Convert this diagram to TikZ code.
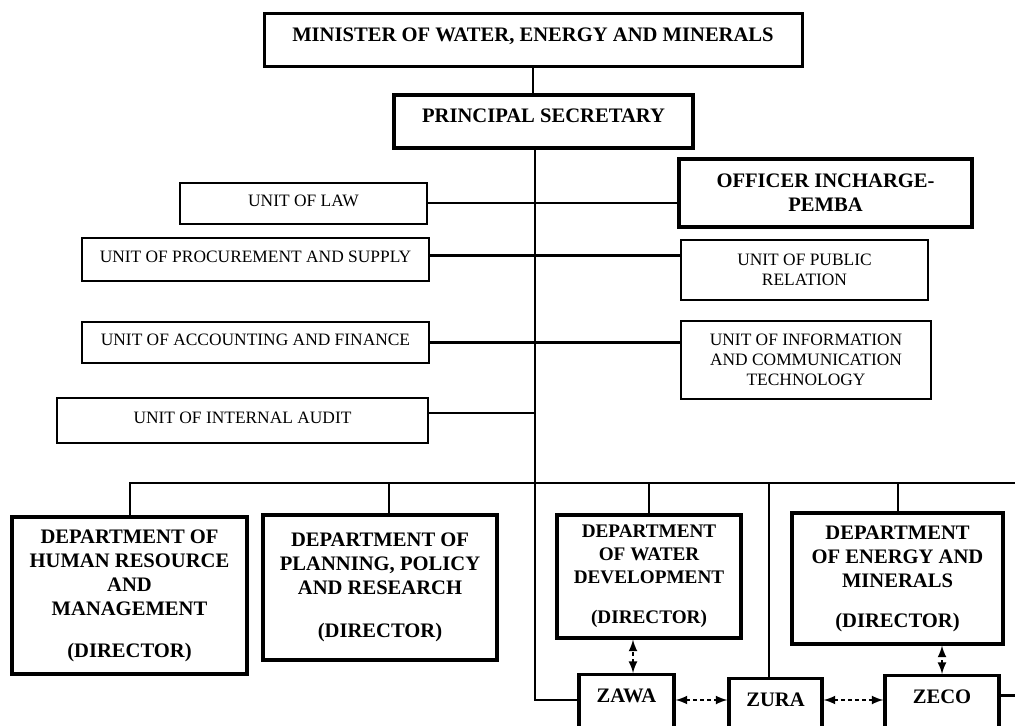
\documentclass[tikz,border=0pt]{standalone}
\usepackage{fontspec}
\setmainfont{Liberation Serif}
\usetikzlibrary{arrows}
\begin{document}
\begin{tikzpicture}[x=0.5pt,y=-0.5pt,>=latex,
    box/.style={draw,rectangle,inner sep=1pt,align=center},
    head/.style={box,line width=1.5pt,font=\fontsize{10.3}{12}\selectfont\bfseries},
    unit/.style={box,line width=1pt,font=\fontsize{8.7}{10}\selectfont},
    dept/.style={head,line width=1.6pt},
    firm/.style={head,line width=1.6pt,anchor=north,inner ysep=7pt,text depth=40pt},
    link/.style={line width=1pt},
    rel/.style={<->,dash pattern=on 2pt off 1.5pt,line width=1pt}]
  \path[use as bounding box,fill=white] (0,0) rectangle (1015,726);
  \clip (0,0) rectangle (1015,726);
  \node[head,minimum width=269pt,minimum height=26.5pt,text depth=5.5pt] (minister) at (533,40.5)
    {MINISTER OF WATER, ENERGY AND MINERALS};
  \node[head,line width=1.6pt,minimum width=149.5pt,minimum height=26.5pt,text depth=5.5pt] (ps) at (543.5,121.5)
    {PRINCIPAL SECRETARY};
  \node[unit,minimum width=123.5pt,minimum height=20.5pt,text depth=3pt] (law) at (303.5,203.5) {UNIT OF LAW};
  \node[unit,minimum width=173.5pt,minimum height=21.5pt,text depth=3pt] (proc) at (255.5,259.5) {UNIT OF PROCUREMENT AND SUPPLY};
  \node[unit,minimum width=173.5pt,minimum height=20.5pt,text depth=3pt] (acct) at (255.5,342.5) {UNIT OF ACCOUNTING AND FINANCE};
  \node[unit,minimum width=185.5pt,minimum height=22.5pt,text depth=3pt] (audit) at (242.5,420.5) {UNIT OF INTERNAL AUDIT};
  \node[head,line width=2pt,minimum width=146.5pt,minimum height=34pt] (officer) at (825.5,193) {OFFICER INCHARGE-\\PEMBA};
  \node[unit,minimum width=123.5pt,minimum height=30pt] (pr) at (804.5,270) {UNIT OF PUBLIC\\RELATION};
  \node[unit,line width=1.1pt,minimum width=125pt,minimum height=39pt] (ict) at (806,360)
    {UNIT OF INFORMATION\\AND COMMUNICATION\\TECHNOLOGY};
  \node[dept,minimum width=117.5pt,minimum height=78.5pt] (hr) at (129.5,595.5)
    {DEPARTMENT OF\\HUMAN RESOURCE\\AND\\MANAGEMENT\\[9pt](DIRECTOR)};
  \node[dept,minimum width=117pt,minimum height=72.5pt] (plan) at (380,587.5)
    {DEPARTMENT OF\\PLANNING, POLICY\\AND RESEARCH\\[9.5pt](DIRECTOR)};
  \node[dept,font=\fontsize{9.6}{11.3}\selectfont\bfseries,minimum width=92pt,minimum height=61.5pt] (water) at (649,576.5)
    {DEPARTMENT\\OF WATER\\DEVELOPMENT\\[9pt](DIRECTOR)};
  \node[dept,minimum width=105.5pt,minimum height=65.5pt] (energy) at (897.5,578.5)
    {DEPARTMENT\\OF ENERGY AND\\MINERALS\\[8pt](DIRECTOR)};
  \node[firm,minimum width=47.5pt] (zawa) at (626.5,673) {ZAWA};
  \node[firm,minimum width=46.5pt] (zura) at (775.5,677) {ZURA};
  \node[firm,minimum width=57pt] (zeco) at (942,674) {ZECO};
  \coordinate (jn) at (535,700);
  \coordinate (bus) at (0,483);
  \coordinate (rim) at (1020,695);
  \draw[link] (minister.south) -- (minister.south |- ps.north);
  \draw[link,line width=1.2pt] (ps.south -| jn) -- (jn) -- (jn -| zawa.west);
  \draw[link] (law.east) -- (law.east -| officer.west);
  \draw[link,line width=1.5pt] ([yshift=1.75pt]proc.east) -- ([yshift=1.75pt]proc.east -| pr.west);
  \draw[link,line width=1.5pt] (acct.east) -- (acct.east -| ict.west);
  \draw[link] ([yshift=3.75pt]audit.east) -- ([yshift=3.75pt]audit.east -| jn);
  \draw[link] (hr.north) -- (hr.north |- bus) -- (rim |- bus);
  \draw[link] ([xshift=4.5pt]plan.north) -- ([xshift=4.5pt]plan.north |- bus);
  \draw[link] (water.north) -- (water.north |- bus);
  \draw[link] (energy.north) -- (energy.north |- bus);
  \draw[link,line width=1.2pt] ([xshift=-3.25pt]zura.north) -- ([xshift=-3.25pt]zura.north |- bus);
  \draw[rel] ([xshift=3.25pt]zawa.north) -- ([xshift=3.25pt]zawa.north |- water.south);
  \draw[rel] (zeco.north) -- (zeco.north |- energy.south);
  \draw[rel] (jn -| zawa.east) -- (jn -| zura.west);
  \draw[rel] (jn -| zura.east) -- (jn -| zeco.west);
  \draw[link,line width=1.5pt] (zeco.east |- rim) -- (rim);
\end{tikzpicture}
\end{document}
